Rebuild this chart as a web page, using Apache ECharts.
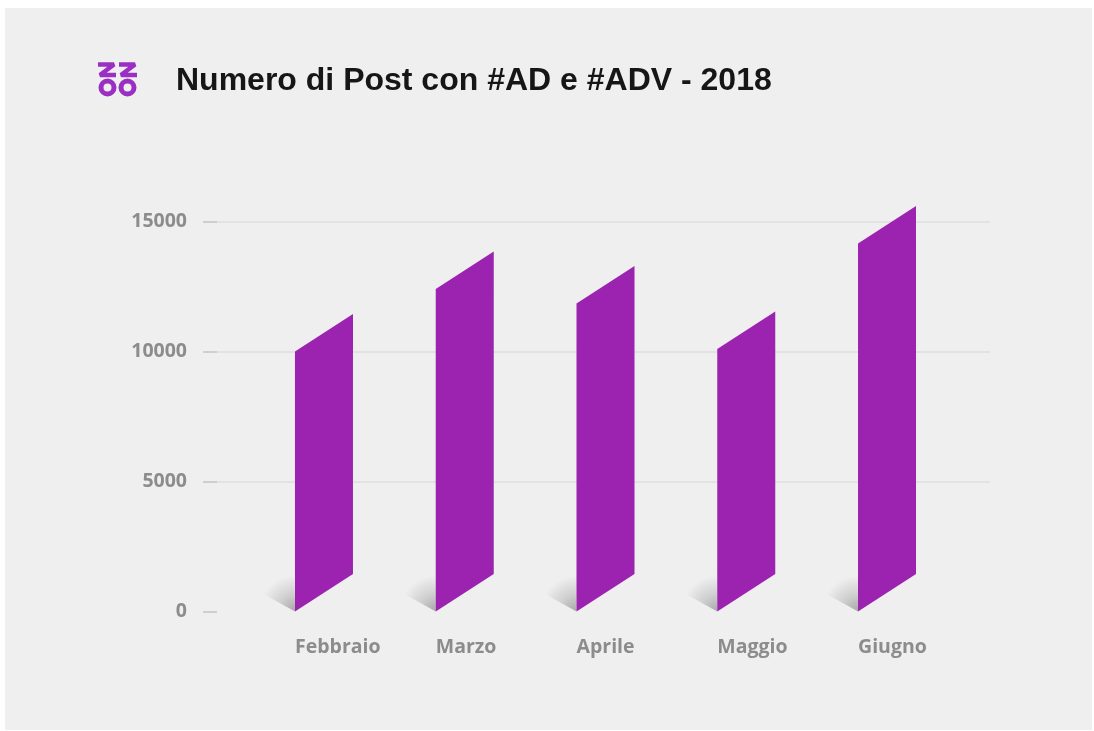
<!DOCTYPE html>
<html>
<head>
<meta charset="utf-8">
<script src="https://cdn.jsdelivr.net/npm/echarts@6/dist/echarts.min.js"></script>
<style>
html,body{margin:0;padding:0;background:#ffffff;}
#chart{width:1094px;height:731px;}
</style>
</head>
<body>
<div id="chart"></div>
<script>
const categories = ['Febbraio', 'Marzo', 'Aprile', 'Maggio', 'Giugno'];
const postValues = [10000, 12400, 11850, 10100, 14150];
const yTicks = [0, 5000, 10000, 15000];
const titleText = 'Numero di Post con #AD e #ADV - 2018';

const BAR_COLOR = '#9b23b0';
const BAR_W = 58;
const SKEW = 37.5;

const chart = echarts.init(document.getElementById('chart'), null, {renderer: 'canvas'});

function renderBar(params, api) {
  const i = api.value(0);
  const v = api.value(1);
  const base = api.coord([i, 0]);
  const top = api.coord([i, v]);
  const x0 = base[0];
  const x1 = x0 + BAR_W;
  const yb = base[1];
  const yt = top[1];
  return {
    type: 'group',
    children: [
      {
        type: 'polygon',
        shape: {points: [[x0, yb], [x0 - 36, yb - 20], [x0, yb - 62]]},
        style: {
          fill: new echarts.graphic.RadialGradient(1, 1, 1, [
            {offset: 0, color: 'rgba(0,0,0,0.30)'},
            {offset: 0.45, color: 'rgba(0,0,0,0.14)'},
            {offset: 1, color: 'rgba(0,0,0,0)'}
          ])
        },
        silent: true
      },
      {
        type: 'polygon',
        shape: {points: [[x0, yb], [x0, yt], [x1, yt - SKEW], [x1, yb - SKEW]]},
        style: {fill: BAR_COLOR}
      }
    ]
  };
}

const LOGO = '#9b2fc4';
const option = {
  backgroundColor: 'transparent',
  animation: false,
  graphic: [
    {type: 'rect', z: -10, shape: {x: 5, y: 8, width: 1087, height: 722}, style: {fill: '#efefef'}},
    {type: 'text', left: 176, top: 65, style: {text: titleText, font: 'bold 32px "Liberation Sans", Arial, sans-serif', fill: '#161616'}},
    {type: 'polyline', shape: {points: [[98, 64.5], [114, 64.5], [100, 75], [116, 75]]}, style: {stroke: LOGO, lineWidth: 4.5, fill: null, lineJoin: 'bevel'}},
    {type: 'polyline', shape: {points: [[119, 64.5], [135, 64.5], [121, 75], [137, 75]]}, style: {stroke: LOGO, lineWidth: 4.5, fill: null, lineJoin: 'bevel'}},
    {type: 'circle', shape: {cx: 107.5, cy: 87.5, r: 6.5}, style: {stroke: LOGO, lineWidth: 5, fill: null}},
    {type: 'circle', shape: {cx: 127.5, cy: 87.5, r: 6.5}, style: {stroke: LOGO, lineWidth: 5, fill: null}}
  ],
  grid: [
    {left: 217, right: 104, top: 221.5, bottom: 119.5},
    {left: 224.6, right: 165.6, top: 221.5, bottom: 119.5}
  ],
  xAxis: [
    {gridIndex: 0, type: 'value', min: 0, max: 1, show: false},
    {
      gridIndex: 1, type: 'category', data: categories,
      axisLine: {show: false}, axisTick: {show: false},
      axisLabel: {align: 'left', margin: 26, fontFamily: '"Open Sans", sans-serif', fontWeight: 'bold', fontSize: 19.5, color: '#8c8c8c'}
    }
  ],
  yAxis: [
    {
      gridIndex: 0, type: 'value', min: 0, max: 15000, interval: 5000, offset: 3,
      axisLine: {show: false},
      axisTick: {show: true, length: 14, lineStyle: {color: '#cfcfcf', width: 2}},
      splitLine: {show: true, showMinLine: false, lineStyle: {color: '#dedede', width: 1.5}},
      axisLabel: {margin: 27, fontFamily: '"Open Sans", sans-serif', fontWeight: 'bold', fontSize: 19.5, color: '#8c8c8c',
        formatter: function (v) { return yTicks.indexOf(v) >= 0 ? String(v) : ''; }}
    },
    {gridIndex: 1, type: 'value', min: 0, max: 15000, show: false}
  ],
  series: [
    {
      type: 'custom',
      xAxisIndex: 1, yAxisIndex: 1,
      clip: false,
      renderItem: renderBar,
      data: postValues.map(function (v, i) { return [i, v]; })
    }
  ]
};
chart.setOption(option);
</script>
</body>
</html>
